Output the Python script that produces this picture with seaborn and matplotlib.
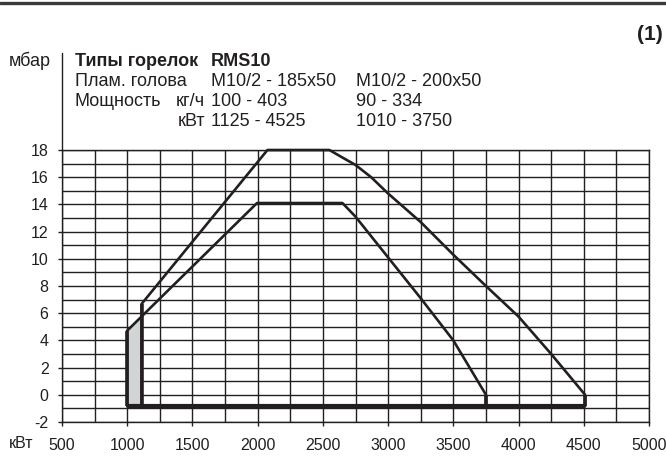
import numpy as np
import pandas as pd
import seaborn as sns
import matplotlib.pyplot as plt
from matplotlib.lines import Line2D

# outline of working range, head M10/2 - 185x50 (kW, mbar)
x_outer = [1110, 1110, 2075, 2550, 2640, 2750, 2870, 3000, 3250, 3500, 3750, 4000, 4250, 4510, 4510]
y_outer = [-0.85, 6.68, 18.0, 18.0, 17.5, 16.9, 16.0, 14.8, 12.7, 10.3, 8.0, 5.75, 3.0, 0.0, -0.85]

# outline of working range, head M10/2 - 200x50
x_inner = [1000, 1000, 1995, 2650, 2750, 3000, 3250, 3500, 3750, 3750]
y_inner = [-0.85, 4.72, 14.1, 14.1, 13.1, 10.1, 7.1, 4.0, 0.0, -0.85]

x_ticks = [500, 1000, 1500, 2000, 2500, 3000, 3500, 4000, 4500, 5000]
y_ticks = [-2, 0, 2, 4, 6, 8, 10, 12, 14, 16, 18]

sns.set_style('white')
plt.rcParams['font.family'] = ['Liberation Sans', 'DejaVu Sans']
plt.rcParams['axes.unicode_minus'] = False
ink = '#231f20'

W, H = 666, 462
fig = plt.figure(figsize=(W / 100, H / 100), dpi=100)
ax = fig.add_axes([62 / W, 40 / H, 587 / W, 272 / H])

df = pd.concat([
    pd.DataFrame({'kW': x_outer, 'mbar': y_outer, 'head': '185x50'}),
    pd.DataFrame({'kW': x_inner, 'mbar': y_inner, 'head': '200x50'}),
], ignore_index=True)

# grey zone between the two minimum outputs, under the 200x50 line
diag_x = x_inner[1:3]
diag_y = y_inner[1:3]
fx = [x_inner[0], x_outer[0]]
ax.fill_between(fx, [y_inner[0]] * 2, np.interp(fx, diag_x, diag_y),
                color='#d3d4d6', lw=0, zorder=2)

sns.lineplot(data=df, x='kW', y='mbar', hue='head', units='head',
             estimator=None, sort=False, palette=[ink, ink], lw=1.9,
             legend=False, ax=ax, zorder=4)

# thick base line and left/right verticals
ax.plot([x_inner[0], x_outer[-1]], [y_inner[0], y_outer[-1]], color=ink, lw=3.0,
        solid_capstyle='butt', zorder=5)
for xs, ys in [(x_inner[:2], y_inner[:2]), (x_outer[:2], y_outer[:2]),
               (x_inner[-2:], y_inner[-2:]), (x_outer[-2:], y_outer[-2:])]:
    ax.plot(xs, ys, color=ink, lw=2.6, solid_capstyle='butt', zorder=5)
for ln in ax.lines:
    ln.set_clip_on(False)
    ln.set_solid_joinstyle('round')

ax.set_xlim(500, 5000)
ax.set_ylim(-2, 18)
ax.set_xticks(x_ticks)
ax.set_yticks(y_ticks)
ax.set_xticks(np.arange(500, 5001, 250), minor=True)
ax.set_yticks(np.arange(-2, 19, 1), minor=True)
ax.grid(which='both', color=ink, lw=1.0)
ax.set_axisbelow(True)
ax.set_xlabel('')
ax.set_ylabel('')
ax.tick_params(which='major', direction='out', color=ink, width=1.0,
               labelsize=11.5, labelcolor=ink)
ax.tick_params(axis='x', which='major', length=2.8, pad=8.5, bottom=True)
ax.tick_params(axis='y', which='major', length=3.2, pad=6.5, left=True)
ax.tick_params(which='minor', length=0)
for s in ax.spines.values():
    s.set_color(ink)
    s.set_linewidth(1.0)

# spine continues up into the header, and rule at top of page
fig.add_artist(Line2D([62 / W, 62 / W], [1 - 150 / H, 1 - 53 / H], color=ink, lw=1.0))
fig.add_artist(Line2D([0, 1], [1 - 3 / H, 1 - 3 / H], color='#3a3a3a', lw=2.4))


def ftext(x, y, s, **kw):
    kw.setdefault('fontsize', 13)
    kw.setdefault('color', ink)
    fig.text(x / W, 1 - y / H, s, va='center', **kw)


ftext(663, 34, '(1)', ha='right', fontweight='bold', fontsize=15)
ftext(9, 61, 'мбар')
ftext(75, 61, 'Типы горелок', fontweight='bold')
ftext(211, 61, 'RMS10', fontweight='bold')
ftext(75, 82, 'Плам. голова')
ftext(211, 82, 'M10/2 - 185x50')
ftext(356, 82, 'M10/2 - 200x50')
ftext(75, 102, 'Мощность')
ftext(205, 102, 'кг/ч', ha='right')
ftext(211, 102, '100 - 403')
ftext(356, 102, '90 - 334')
ftext(205, 122, 'кВт', ha='right')
ftext(211, 122, '1125 - 4525')
ftext(356, 122, '1010 - 3750')
ftext(9, 444, 'кВт', fontsize=11.5)

fig.savefig('out.png', dpi=100)
